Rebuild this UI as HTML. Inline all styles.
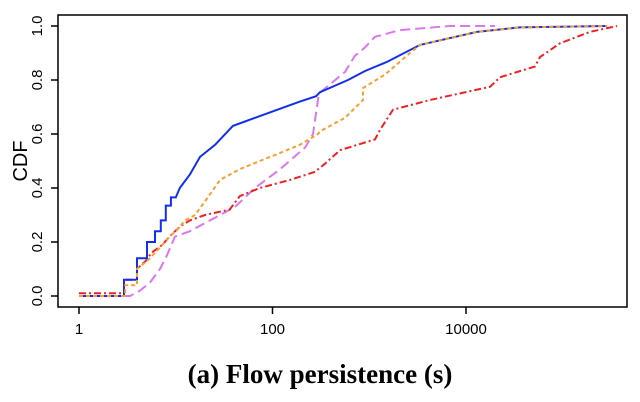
<!DOCTYPE html>
<html><head><meta charset="utf-8"><style>
body{margin:0;background:#fff;}
svg{display:block;}
</style></head><body>
<svg id="chart" width="640" height="402" viewBox="0 0 640 402" xmlns="http://www.w3.org/2000/svg">
<rect x="58" y="15" width="569" height="292" fill="none" stroke="#000" stroke-width="1.5"/>
<g id="axes"></g>
<g id="series"></g>
<text transform="translate(27,161) rotate(-90)" text-anchor="middle" font-family="Liberation Sans, sans-serif" font-size="20">CDF</text>
<text x="320" y="383" text-anchor="middle" font-family="Liberation Serif, serif" font-weight="bold" font-size="27">(a) Flow persistence (s)</text>
</svg>
<script>
const xTicks=[1,100,10000];
const xTickLabels=["1","100","10000"];
const yTicks=[0,0.2,0.4,0.6,0.8,1.0];
const yTickLabels=["0.0","0.2","0.4","0.6","0.8","1.0"];

const blueX=[1,2.92,2.92,3.98,3.98,5.05,5.05,6.1,6.1,7.0,7.0,7.9,7.9,8.9,8.9,10,11,14,17.8,25.5,39,94,192,282,310,603,900,1525,3350,13000,36000,287000];
const blueY=[0,0,0.06,0.06,0.14,0.14,0.2,0.2,0.24,0.24,0.28,0.28,0.335,0.335,0.365,0.365,0.4,0.45,0.515,0.56,0.63,0.68,0.72,0.74,0.755,0.8,0.833,0.867,0.93,0.978,0.995,1.0];
const orangeX=[1,3.0,3.0,3.98,3.98,5.05,6.1,7.3,8.6,10,12.5,15.8,20,28.7,46,74,120,192,295,310,561,861,861,1455,2640,3350,13000,36000,287000];
const orangeY=[0,0,0.04,0.04,0.1,0.13,0.16,0.19,0.22,0.24,0.28,0.3,0.35,0.43,0.47,0.5,0.53,0.56,0.6,0.61,0.66,0.726,0.77,0.82,0.9,0.93,0.978,0.995,1.0];
const redX=[1,2.92,2.92,3.98,3.98,4.9,5.6,7.3,8.6,11.3,14,20,36,46,74,152,275,349,499,1147,1291,1760,4245,17700,22400,51600,58200,93700,191000,364000];
const redY=[0.01,0.01,0.06,0.06,0.1,0.13,0.16,0.19,0.22,0.26,0.28,0.3,0.32,0.37,0.4,0.43,0.46,0.49,0.54,0.58,0.615,0.69,0.726,0.775,0.81,0.85,0.885,0.936,0.978,1.0];
const violetX=[1,3.37,4.27,5.42,6.87,8.1,9.8,14,20,41,66,120,217,262,302,561,713,900,1147,2080,6840,19950];
const violetY=[0,0,0.02,0.05,0.1,0.15,0.22,0.24,0.27,0.33,0.4,0.47,0.55,0.6,0.75,0.83,0.89,0.92,0.96,0.985,1.0,1.0];

const NS="http://www.w3.org/2000/svg";
function xs(v){return 79+96.75*Math.log10(v);}
function ys(v){return 296-270*v;}
const axes=document.getElementById('axes');
function mk(tag,attrs,parent){const e=document.createElementNS(NS,tag);for(const k in attrs)e.setAttribute(k,attrs[k]);parent.appendChild(e);return e;}
xTicks.forEach((t,i)=>{
  const l=mk('line',{x1:xs(t),x2:xs(t),y1:307,y2:314,stroke:'#000','stroke-width':1.5},axes);
  
  
  const tx=mk('text',{x:xs(t),y:334,'text-anchor':'middle','font-family':'Liberation Sans, sans-serif','font-size':15},axes);
  tx.textContent=xTickLabels[i];
  
  
});
yTicks.forEach((t,i)=>{
  const l=mk('line',{x1:51,x2:58,y1:ys(t),y2:ys(t),stroke:'#000','stroke-width':1.5},axes);
  
  
  const tx=mk('text',{transform:`translate(42,${ys(t)}) rotate(-90)`,'text-anchor':'middle','font-family':'Liberation Sans, sans-serif','font-size':15},axes);
  tx.textContent=yTickLabels[i];
  
  
});
const series=document.getElementById('series');
function draw(X,Y,color,dash,name){
  const d=X.map((x,i)=>(i?'L':'M')+xs(x).toFixed(1)+','+ys(Y[i]).toFixed(1)).join('');
  const p=mk('path',{d:d,fill:'none',stroke:color,'stroke-width':2,'stroke-dasharray':dash},series);
  
  
}
draw(violetX,violetY,'#dd77ee','10,5','violet-series-line');
draw(redX,redY,'#ee2222','7,3,2,3','red-series-line');
draw(blueX,blueY,'#1030ee','none','blue-series-line');
draw(orangeX,orangeY,'#f5a030','4,3','orange-series-line');
</script>
</body></html>
